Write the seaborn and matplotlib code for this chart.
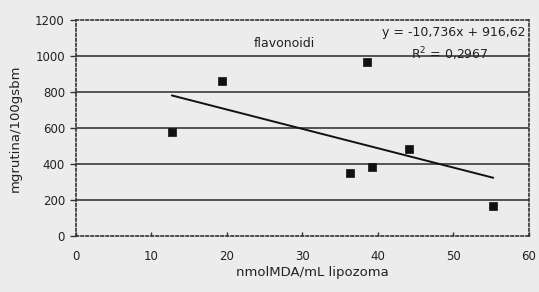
import numpy as np
import pandas as pd
import seaborn as sns
import matplotlib.pyplot as plt

# values
mda = [12.7, 19.4, 36.3, 38.6, 39.2, 44.1, 55.3]
flavonoidi = [575, 860, 350, 965, 383, 483, 167]
slope = -10.736
intercept = 916.62
r2_text = "R$^2$ = 0,2967"
eq_text = "y = -10,736x + 916,62"

df = pd.DataFrame({"x": mda, "y": flavonoidi})
xs = np.array([min(mda), max(mda)])
trend = pd.DataFrame({"x": xs, "y": slope * xs + intercept})

sns.set_style("white")
plt.rcParams["font.family"] = ["DejaVu Sans"]

bg = "#ececec"
txt = "#222222"
fig = plt.figure(figsize=(5.39, 2.92), dpi=100, facecolor=bg)
ax = fig.add_axes([0.141, 0.192, 0.84, 0.74])
ax.set_facecolor(bg)

for yv in [200, 400, 600, 800, 1000]:
    ax.axhline(yv, color="#2a2a2a", lw=1.1, zorder=1)

sns.lineplot(data=trend, x="x", y="y", color="#111111", lw=1.4, ax=ax, zorder=2)
sns.scatterplot(data=df, x="x", y="y", marker="s", s=40, color="#111111",
                edgecolor="#111111", ax=ax, zorder=3)

ax.set_xlim(0, 60)
ax.set_ylim(0, 1200)
ax.set_xticks(range(0, 61, 10))
ax.set_yticks(range(0, 1201, 200))
for side in ["top", "right", "left", "bottom"]:
    ax.spines[side].set_visible(True)
    ax.spines[side].set_color("#333333")
    ax.spines[side].set_linestyle((0, (1.5, 1.5)))
    ax.spines[side].set_linewidth(1.2)

ax.tick_params(axis="y", direction="out", length=4, width=1, colors="#333333",
               labelsize=8.5, labelcolor=txt, pad=4, left=True)
ax.tick_params(axis="x", direction="in", length=3, width=1, colors="#333333",
               labelsize=8.5, labelcolor=txt, pad=10, bottom=True)

ax.set_xlabel("nmolMDA/mL lipozoma", fontsize=9.5, color=txt)
ax.set_ylabel("mgrutina/100gsbm", fontsize=9.5, color=txt)
ax.xaxis.set_label_coords(0.521, -0.14)
ax.yaxis.set_label_coords(-0.12, 0.5)

ax.text(0.46, 0.89, "flavonoidi", transform=ax.transAxes, fontsize=9,
        ha="center", va="center", color=txt)
ax.text(0.993, 0.94, eq_text, transform=ax.transAxes, fontsize=9,
        ha="right", va="center", color=txt)
ax.text(0.825, 0.84, r2_text, transform=ax.transAxes, fontsize=9,
        ha="center", va="center", color=txt)

fig.savefig("out.png", dpi=100, facecolor=bg)
